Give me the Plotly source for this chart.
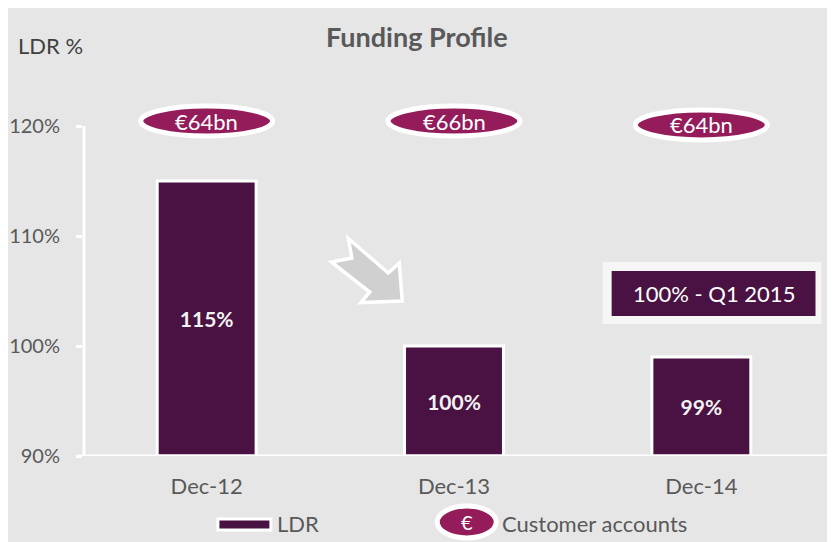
import plotly.graph_objects as go

# ---- data ----
categories = ["Dec-12", "Dec-13", "Dec-14"]
ldr_values = [115, 100, 99]
customer_accounts = ["€64bn", "€66bn", "€64bn"]
y_tick_vals = [90, 100, 110, 120]
y_tick_text = ["90%", "100%", "110%", "120%"]
note_text = "100% - Q1 2015"
title_text = "Funding Profile"
y_title = "LDR %"
legend_labels = ["LDR", "Customer accounts"]

# ---- styles ----
BG = "#e6e6e6"
BAR = "#4a1243"
ELL = "#951c5b"
TXT = "#595959"
FONT = "Lato"
PAGE_W, PAGE_H = 835, 542
OFF = 8                  # page body margin
W, H = PAGE_W - OFF, PAGE_H - OFF
PL, PR = 83, 825.5      # plot area (page pixel x)
PT, PB = 82, 456        # plot area (page pixel y)
BASE = 90

def px(x):
    return (x - PL) / (PR - PL)

def py(y):
    return (PB - y) / (PB - PT)

fig = go.Figure()
fig.add_trace(go.Bar(
    x=categories,
    y=[v - BASE for v in ldr_values],
    base=BASE,
    width=0.40,
    marker=dict(color=BAR, line=dict(color="white", width=3)),
    text=[f"{v}%" for v in ldr_values],
    textposition="inside",
    insidetextanchor="middle",
    textangle=0,
    textfont=dict(family=FONT, size=21, color="#f2f2f2", weight="bold"),
    hoverinfo="skip",
    showlegend=False,
))

shapes = []
annotations = []

# axis lines
shapes.append(dict(type="line", xref="paper", yref="y", x0=px(84), x1=px(84), y0=90, y1=120,
                   line=dict(color="white", width=3)))
shapes.append(dict(type="line", xref="paper", yref="y", x0=px(77), x1=px(830), y0=90, y1=90,
                   line=dict(color="white", width=3)))

# customer account ellipses
ell_levels = [120.45, 120.45, 120.1]
for i, (lab, lev) in enumerate(zip(customer_accounts, ell_levels)):
    shapes.append(dict(type="circle", xref="x", yref="y", xsizemode="pixel", ysizemode="pixel",
                       xanchor=i, yanchor=lev, x0=-66, x1=66, y0=-15, y1=15,
                       fillcolor=ELL, line=dict(color="white", width=5), layer="above"))
    annotations.append(dict(x=i, y=lev, xref="x", yref="y", text=lab, showarrow=False,
                            font=dict(family=FONT, size=22, color="white"),
                            xanchor="center", yanchor="middle"))

# grey arrow
arrow_pts = [(348.5, 238.5), (352, 258), (331.5, 262), (370, 292), (361, 302.5),
             (402.5, 301), (399.5, 263), (388.5, 273)]
path = "M " + " L ".join(f"{px(x):.5f},{py(y):.5f}" for x, y in arrow_pts) + " Z"
shapes.append(dict(type="path", xref="paper", yref="paper", path=path,
                   fillcolor="#d0d0d0", line=dict(color="white", width=3.5), layer="above"))

# note box
shapes.append(dict(type="rect", xref="paper", yref="paper", x0=px(604), x1=px(821), y0=py(323), y1=py(263),
                   fillcolor="#f6f6f6", line=dict(color="#f6f6f6", width=2), layer="above"))
shapes.append(dict(type="rect", xref="paper", yref="paper", x0=px(612), x1=px(816), y0=py(316), y1=py(271),
                   fillcolor=BAR, line=dict(width=0), layer="above"))
annotations.append(dict(x=px(714), y=py(293.5), xref="paper", yref="paper", text=note_text, showarrow=False,
                        font=dict(family=FONT, size=22, color="white"), xanchor="center", yanchor="middle"))

# title & y title
annotations.append(dict(x=px(417), y=py(37), xref="paper", yref="paper", text=f"<b>{title_text}</b>",
                        showarrow=False, font=dict(family=FONT, size=27, color=TXT),
                        xanchor="center", yanchor="middle"))
annotations.append(dict(x=px(16), y=py(45), xref="paper", yref="paper", text=y_title,
                        showarrow=False, font=dict(family=FONT, size=22, color="#404040"),
                        xanchor="left", yanchor="middle"))

# legend (manual)
shapes.append(dict(type="rect", xref="paper", yref="paper", x0=px(218), x1=px(271), y0=py(530), y1=py(519),
                   fillcolor=BAR, line=dict(color="white", width=3), layer="above"))
annotations.append(dict(x=px(275), y=py(523), xref="paper", yref="paper", text=legend_labels[0],
                        showarrow=False, font=dict(family=FONT, size=22, color=TXT),
                        xanchor="left", yanchor="middle"))
shapes.append(dict(type="circle", xref="paper", yref="paper", x0=px(437.5), x1=px(496.5), y0=py(538), y1=py(506),
                   fillcolor=ELL, line=dict(color="white", width=5), layer="above"))
annotations.append(dict(x=px(467), y=py(522), xref="paper", yref="paper", text="€",
                        showarrow=False, font=dict(family=FONT, size=20, color="white"),
                        xanchor="center", yanchor="middle"))
annotations.append(dict(x=px(500), y=py(523), xref="paper", yref="paper", text=legend_labels[1],
                        showarrow=False, font=dict(family=FONT, size=22, color=TXT),
                        xanchor="left", yanchor="middle"))

fig.update_layout(
    width=W, height=H,
    margin=dict(l=PL - OFF, r=PAGE_W - PR, t=PT - OFF, b=PAGE_H - PB, pad=0, autoexpand=False),
    paper_bgcolor=BG, plot_bgcolor=BG,
    font=dict(family=FONT, color=TXT),
    shapes=shapes, annotations=annotations,
    xaxis=dict(type="category", range=[-0.5, 2.5], showgrid=False, zeroline=False, showline=False,
               ticks="", tickfont=dict(family=FONT, size=22, color=TXT), ticklabelstandoff=15,
               automargin=False, fixedrange=True),
    yaxis=dict(range=[90, 124], tickvals=y_tick_vals, ticktext=y_tick_text, showgrid=False,
               zeroline=False, showline=False, ticks="outside", ticklen=6, tickwidth=3,
               tickcolor="white", tickfont=dict(family=FONT, size=20, color=TXT),
               ticklabelstandoff=12, automargin=False, fixedrange=True),
)

fig.write_html("out.html", config={"displayModeBar": False})
